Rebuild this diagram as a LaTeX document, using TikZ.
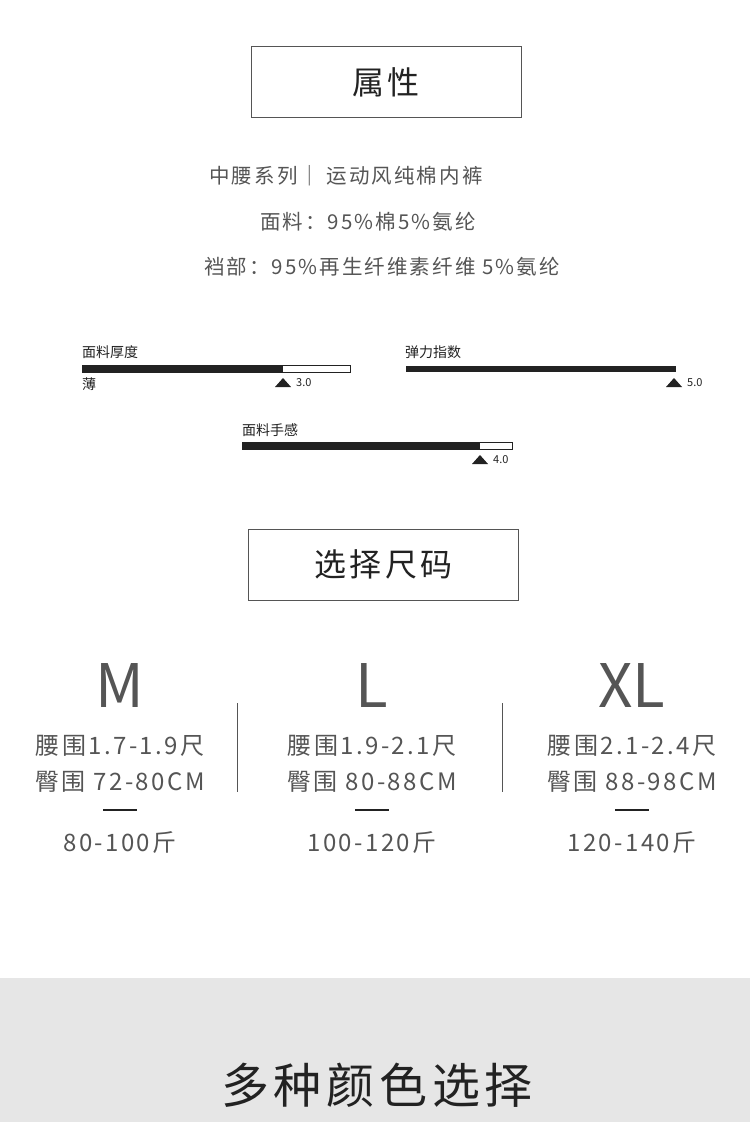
\documentclass[tikz,border=0pt]{standalone}
\usepackage{fontspec}
\setmainfont[LetterSpace=10]{Noto Sans CJK SC}
\newfontfamily\plainfont{Noto Sans CJK SC}
\usetikzlibrary{positioning}
\definecolor{txt}{HTML}{555555}
\definecolor{band}{HTML}{E6E6E6}
\definecolor{barc}{HTML}{222222}
\begin{document}
\begin{tikzpicture}[x=1pt,y=-1pt]
\tikzstyle{titlebox}=[draw=txt,minimum width=270pt,minimum height=71pt,font=\fontsize{32}{36}\selectfont,text=barc]
\tikzstyle{info}=[font=\fontsize{20.5}{24}\selectfont,text=txt]
\tikzstyle{small}=[font=\plainfont\fontsize{14}{16}\selectfont,text=barc,inner sep=0pt]
\tikzstyle{tiny}=[font=\plainfont\fontsize{11}{12}\selectfont,text=barc,inner sep=0pt,anchor=west]
\tikzstyle{size}=[font=\plainfont\fontsize{60}{66}\selectfont,text=txt]
\tikzstyle{line}=[font=\fontsize{24}{28}\selectfont,text=txt]
\tikzstyle{tri}=[fill=barc,draw=none]
\useasboundingbox (0,0) rectangle (750,1122);
\fill[white] (0,0) rectangle (750,1122);
% attributes
\node [titlebox] at (386,82) (attr) {属性};
\node [info] at (346,176) (series) {中腰系列｜ 运动风纯棉内裤};
\node [info] at (368,222) (fabric) {面料：95\%棉5\%氨纶};
\node [info] at (382,267) (crotch) {裆部：95\%再生纤维素纤维 5\%氨纶};
% bars
\node [small,anchor=west] at (82,352) (t1) {面料厚度};
\node [small,anchor=west] at (82,384) (t1b) {薄};
\draw [barc,fill=white,line width=0.5pt] (82,365.5) rectangle (350,372);
\fill [barc] (82,365.5) rectangle (283,372);
\fill [tri] (275,387) -- (291,387) -- (283,378) -- cycle;
\node [tiny] at (296,383) (v1) {3.0};
\node [small,anchor=west] at (405,352) (t2) {弹力指数};
\fill [barc] (406,365.5) rectangle (676,372);
\fill [tri] (666,387) -- (682,387) -- (674,378) -- cycle;
\node [tiny] at (687,383) (v2) {5.0};
\node [small,anchor=west] at (242,430) (t3) {面料手感};
\draw [barc,fill=white,line width=0.5pt] (242,442) rectangle (512,449);
\fill [barc] (242,442) rectangle (480,449);
\fill [tri] (472,464) -- (488,464) -- (480,455) -- cycle;
\node [tiny] at (493,460) (v3) {4.0};
% sizes
\node [titlebox] at (383.5,564.5) (pick) {选择尺码};
\foreach \x/\s/\w/\h/\k in {120/M/1.7-1.9尺/ 72-80CM/80-100斤,372/L/1.9-2.1尺/ 80-88CM/100-120斤,632/XL/2.1-2.4尺/ 88-98CM/120-140斤}{
  \node [size] at (\x,686) (s\s) {\s};
  \node [line] at (\x,746) (w\s) {腰围\w};
  \node [line] at (\x,782) (h\s) {臀围\h};
  \draw [barc,line width=2.5pt] (\x-17,810) -- (\x+17,810);
  \node [line] at (\x,843) (k\s) {\k};
}
\draw [txt,line width=1pt] (237,703) -- (237,792);
\draw [txt,line width=1pt] (502,703) -- (502,792);
% colours
\fill [band] (0,978) rectangle (750,1122);
\node [font=\fontsize{48}{54}\selectfont,text=barc] at (377,1085) (colors) {多种颜色选择};
\end{tikzpicture}
\end{document}
